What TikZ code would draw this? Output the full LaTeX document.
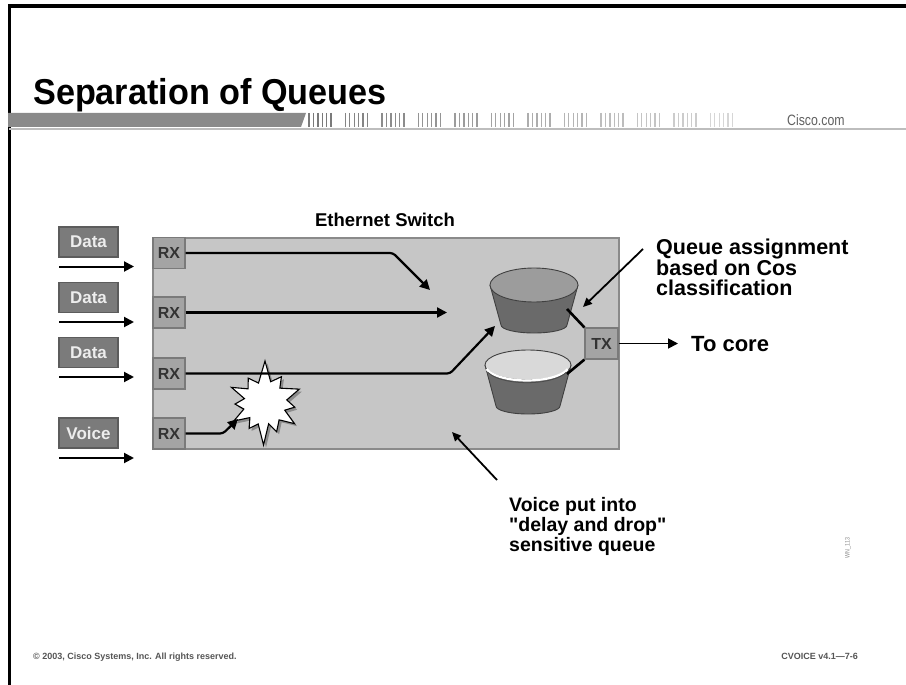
\documentclass[tikz,border=0pt]{standalone}
\usepackage{fontspec}
\setmainfont{Liberation Sans}
\newfontfamily\narrowsans[FakeStretch=0.82]{Liberation Sans}
\newfontfamily\titlesans[FakeStretch=0.95]{Liberation Sans}
\newfontfamily\rawsans{Liberation Sans}
\newcommand\dq{{\rawsans\char"22}}
\usetikzlibrary{arrows.meta}

\definecolor{panel}{HTML}{C6C6C6}
\definecolor{paneledge}{HTML}{8A8A8A}
\definecolor{portfill}{HTML}{A4A4A4}
\definecolor{portedge}{HTML}{7A7A7A}
\definecolor{tagfill}{HTML}{7B7B7B}
\definecolor{tagedge}{HTML}{5C5C5C}
\definecolor{tagtext}{HTML}{EDEDED}
\definecolor{barfill}{HTML}{8A8A8A}
\definecolor{rulegray}{HTML}{BDBDBD}
\definecolor{cupdark}{HTML}{6A6A6A}
\definecolor{cupmid}{HTML}{9C9C9C}
\definecolor{cuplight}{HTML}{D9D9D9}
\definecolor{footgray}{HTML}{555555}

\tikzset{
  tip/.tip={Triangle[length=10pt,width=10pt]},
  smalltip/.tip={Triangle[length=9pt,width=8pt]},
  portbox/.style={draw=portedge, fill=portfill, line width=1.2, minimum width=32, minimum height=31,
    inner sep=0, text=black!80, font=\fontsize{16}{16}\selectfont\bfseries},
  tagbox/.style={draw=tagedge, fill=tagfill, line width=1.2, minimum width=59, minimum height=30,
    inner sep=0, text=tagtext, font=\fontsize{17}{17}\selectfont\bfseries},
  flow/.style={line width=2.2, black, rounded corners=3},
  feed/.style={line width=2, black, -tip},
  link/.style={line width=2.6, black},
  pointer/.style={line width=1.8, black, -smalltip},
  note/.style={anchor=north west, align=left, inner sep=0,
    font=\fontsize{21.5}{20.5}\selectfont\bfseries},
  cupline/.style={draw=black!75, line width=0.9},
}

\begin{document}
\begin{tikzpicture}[x=1pt,y=-1pt]
\useasboundingbox (0,0) rectangle (906,685);
\fill[white] (0,0) rectangle (906,685);

% slide frame
\draw[line width=3.5] (9.5,685) -- (9.5,6) -- (906,6);

% title
\node[anchor=base west, inner sep=0] (title) at (33,105)
  {\titlesans\fontsize{36}{36}\selectfont\bfseries Separation of Queues};

% header bar with fading bar code
\draw[rulegray, line width=1.5] (9,129) -- (906,129);
\fill[barfill] (8,113) -- (306,113) -- (301,127) -- (8,127) -- cycle;
\foreach \g in {0,...,11}{
  \pgfmathsetmacro\xo{309+\g*36.5}
  \pgfmathtruncatemacro\sh{52-3.2*\g}
  \foreach \k/\w in {0/1.6,1/1.0,2/1.4,3/1.0,4/1.6,5/1.1}{
    \draw[black!\sh, line width=\w] (\xo+\k*4.4,113) -- (\xo+\k*4.4,127);
  }
}
\node[anchor=base west, inner sep=0, text=black!62] (brand) at (787,125)
  {\narrowsans\fontsize{15}{15}\selectfont Cisco.com};

% switch
\node[anchor=base, inner sep=0] (swlabel) at (385,226)
  {\fontsize{18.5}{18.5}\selectfont\bfseries Ethernet Switch};
\node[draw=paneledge, fill=panel, line width=1.5, minimum width=466, minimum height=211,
  inner sep=0] (sw) at (386,343.5) {};

% ingress ports
\node[portbox] (rx1) at (169,253) {RX};
\node[portbox] (rx2) at (169,312.5) {RX};
\node[portbox] (rx3) at (169,373.5) {RX};
\node[portbox] (rx4) at (169,433.5) {RX};

% traffic tags and their feed arrows
\node[tagbox] (d1) at (88.5,242) {Data};
\node[tagbox] (d2) at (88.5,297.5) {Data};
\node[tagbox] (d3) at (88.5,352.5) {Data};
\node[tagbox] (vo) at (88.5,433) {Voice};
\coordinate (f1a) at (59,266.5);  \coordinate (f1b) at (134,266.5);
\coordinate (f2a) at (59,322);    \coordinate (f2b) at (134,322);
\coordinate (f3a) at (59,377);    \coordinate (f3b) at (134,377);
\coordinate (f4a) at (59,458);    \coordinate (f4b) at (134,458);
\draw[feed] (f1a) -- (f1b);
\draw[feed] (f2a) -- (f2b);
\draw[feed] (f3a) -- (f3b);
\draw[feed] (f4a) -- (f4b);

% collision burst
\begin{scope}[shift={(265,403)}]
  \fill[black!45, shift={(2.5,2.5)}]
    (-90:42) -- (-75:22) -- (-58:31) -- (-45:21) -- (-22:37) -- (-8:22) -- (8:30) -- (20:21)
    -- (35:36) -- (50:22) -- (68:31) -- (80:21) -- (92:42) -- (108:22) -- (122:30) -- (136:21)
    -- (150:36) -- (164:22) -- (178:30) -- (192:21) -- (205:37) -- (220:22) -- (236:30)
    -- (252:21) -- cycle;
  \filldraw[fill=white, draw=black, line width=1.1]
    (-90:42) -- (-75:22) -- (-58:31) -- (-45:21) -- (-22:37) -- (-8:22) -- (8:30) -- (20:21)
    -- (35:36) -- (50:22) -- (68:31) -- (80:21) -- (92:42) -- (108:22) -- (122:30) -- (136:21)
    -- (150:36) -- (164:22) -- (178:30) -- (192:21) -- (205:37) -- (220:22) -- (236:30)
    -- (252:21) -- cycle;
\end{scope}

% flows through the switch
\coordinate (k1) at (393,253);   \coordinate (t1) at (430,290);
\coordinate (t2) at (447,312.5);
\coordinate (k3) at (450,373.5); \coordinate (t3) at (495,326);
\coordinate (k4) at (223,433.5); \coordinate (t4) at (238,419);
\draw[flow, -tip] (rx1.east) -- (k1) -- (t1);
\draw[flow, -tip] (rx2.east) -- (t2);
\draw[flow, -tip] (rx3.east) -- (k3) -- (t3);
\draw[flow, -tip] (rx4.east) -- (k4) -- (t4);

% upper queue
\fill[cupdark] (490,285) -- (501,325) arc[start angle=180, end angle=0, x radius=33, y radius=8]
  -- (578,285) -- cycle;
\draw[cupline] (490,285) -- (501,325) arc[start angle=180, end angle=0, x radius=33, y radius=8]
  -- (578,285);
\filldraw[fill=cupmid, cupline] (534,285) ellipse[x radius=44, y radius=17];

% lower queue
\fill[cupdark] (485,365) -- (496,406) arc[start angle=180, end angle=0, x radius=32, y radius=8]
  -- (571,365) -- cycle;
\draw[cupline] (485,365) -- (496,406) arc[start angle=180, end angle=0, x radius=32, y radius=8]
  -- (571,365);
\filldraw[fill=cuplight, cupline] (528,365) ellipse[x radius=43, y radius=15];
\draw[white, line width=2.2] (486.5,369) arc[start angle=165, end angle=15, x radius=42, y radius=15.5];
\draw[black!70, line width=0.8] (488,372.5) arc[start angle=160, end angle=20, x radius=41.5, y radius=15.5];

% egress port
\node[portbox, minimum width=33] (tx) at (601.5,343.5) {TX};
\coordinate (qa) at (567,309);
\coordinate (qb) at (567,374);
\draw[link] (qa) -- (tx.north west);
\draw[link] (qb) -- (tx.south west);
\coordinate (core) at (678,343.5);
\draw[line width=1.8, -tip] (tx.east) -- (core);
\node[anchor=west, inner sep=0] (tocore) at (691,344)
  {\fontsize{22}{22}\selectfont\bfseries To core};

% callouts
\node[note] (qnote) at (656,239) {Queue assignment\\based on Cos\\classification};
\coordinate (qn1) at (643,249); \coordinate (qn2) at (583,307);
\draw[pointer] (qn1) -- (qn2);

\node[note, font=\fontsize{19.5}{20}\selectfont\bfseries] (vnote) at (509,497)
  {Voice put into\\\dq delay and drop\dq\\sensitive queue};
\coordinate (vn1) at (497,480); \coordinate (vn2) at (452,432);
\draw[pointer] (vn1) -- (vn2);

% figure code
\node[rotate=90, inner sep=0, text=black!45] (figcode) at (848,548)
  {\narrowsans\fontsize{6.5}{6.5}\selectfont WN\_113};

% footer
\node[anchor=base west, inner sep=0, text=footgray] (copy) at (33,659)
  {\fontsize{9}{9}\selectfont\bfseries \textcopyright\ 2003, Cisco Systems, Inc. All rights reserved.};
\node[anchor=base east, inner sep=0, text=footgray] (course) at (858,659)
  {\fontsize{9}{9}\selectfont\bfseries CVOICE v4.1---7-6};
\end{tikzpicture}
\end{document}
